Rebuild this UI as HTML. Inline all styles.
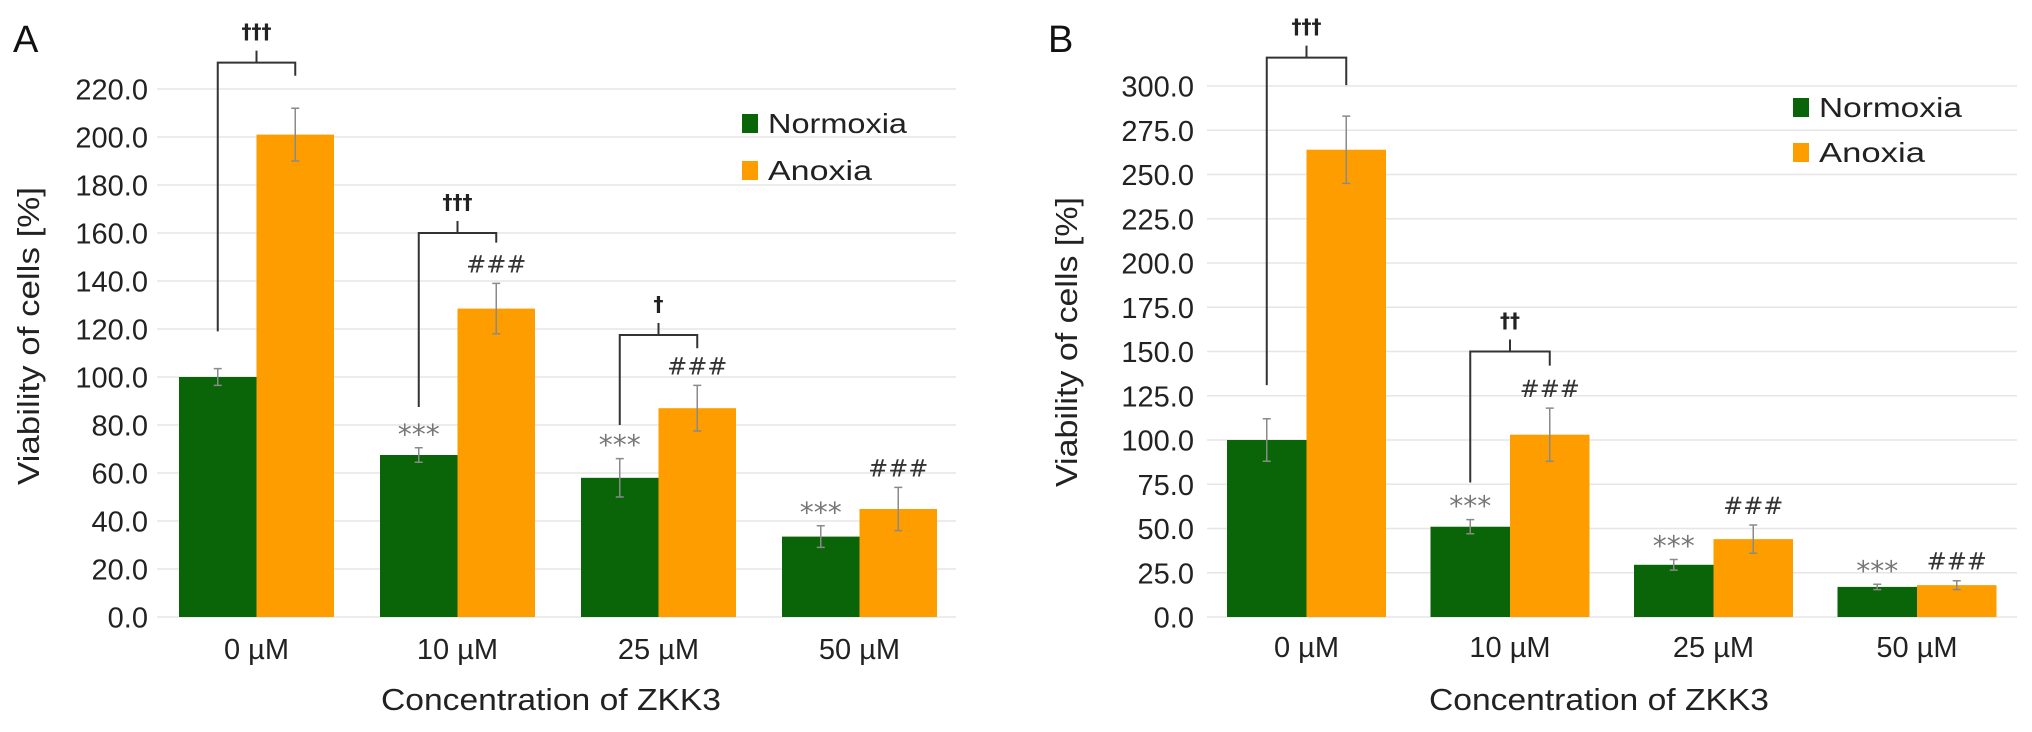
<!DOCTYPE html>
<html><head><meta charset="utf-8"><style>
html,body{margin:0;padding:0;background:#fff}
svg{display:block;font-family:"Liberation Sans",Arial,sans-serif}
</style></head><body>
<svg id="chart" width="2032" height="732" viewBox="0 0 2032 732" xmlns="http://www.w3.org/2000/svg"></svg>
<script>
const categories = ["0 \u00b5M","10 \u00b5M","25 \u00b5M","50 \u00b5M"];
const seriesNames = ["Normoxia","Anoxia"];
const aNormoxia = [100, 67.5, 58, 33.5];
const aNormoxiaErr = [3.5, 3, 8, 4.5];
const aAnoxia = [201, 128.5, 87, 45];
const aAnoxiaErr = [11, 10.5, 9.5, 9];
const aTicks = [0,20,40,60,80,100,120,140,160,180,200,220];
const aNormStars = ["", "***", "***", "***"];
const aAnoxHash = ["", "###", "###", "###"];
// brackets: group, left leg value, right leg value, top value, label
const aBrackets = [[0,119,225.5,231,"\u2020\u2020\u2020"],[1,87.5,156,160,"\u2020\u2020\u2020"],[2,80,112,117.5,"\u2020"]];

const bNormoxia = [100, 51, 29.5, 17];
const bNormoxiaErr = [12, 4, 3, 1.5];
const bAnoxia = [264, 103, 44, 18];
const bAnoxiaErr = [19, 15, 8, 2.5];
const bTicks = [0,25,50,75,100,125,150,175,200,225,250,275,300];
const bNormStars = ["", "***", "***", "***"];
const bAnoxHash = ["", "###", "###", "###"];
const bBrackets = [[0,131,300.5,316,"\u2020\u2020\u2020"],[1,76,142,150,"\u2020\u2020"]];

const NS="http://www.w3.org/2000/svg";
const svg=document.getElementById('chart');
function mk(tag,attrs,parent,text){const e=document.createElementNS(NS,tag);for(const k in attrs)e.setAttribute(k,attrs[k]);if(text!==undefined)e.textContent=text;(parent||svg).appendChild(e);return e;}

function panel(cfg){
  const g=mk('g',{});
  
  
  const y=v=>cfg.y0-v*cfg.ppu;
  const gx=i=>cfg.gStart+i*cfg.gStep;
  cfg.ticks.forEach(t=>{
    const l=mk('line',{x1:cfg.gridX0,x2:cfg.gridX1,y1:y(t),y2:y(t),stroke:'#e6e6e6','stroke-width':1.5},g);
    
    
    const tx=mk('text',{x:cfg.tickX,y:y(t)+10.5,'text-anchor':'end','font-size':29,fill:'#222'},g,t.toFixed(1));
    
    
  });
  categories.forEach((c,i)=>{
    [[cfg.norm,cfg.normErr,'#0a6408',0],[cfg.anox,cfg.anoxErr,'#fe9d00',1]].forEach(([vals,errs,col,s])=>{
      const x=gx(i)+s*cfg.bw;
      const r=mk('rect',{x:x,y:y(vals[i]),width:cfg.bw,height:y(0)-y(vals[i]),fill:col},g);
      
      
      const cx=x+cfg.bw/2, t=y(vals[i]+errs[i]), b=y(vals[i]-errs[i]);
      const e=mk('path',{d:`M${cx},${t}V${b}M${cx-4},${t}H${cx+4}M${cx-4},${b}H${cx+4}`,stroke:'#8a8a8a','stroke-width':1.5,fill:'none'},g);
      
      
      const lab=s?cfg.hash[i]:cfg.stars[i];
      if(lab){
        const a=mk('text',{x:cx,y:s?t-11:t-4,'text-anchor':'middle','font-size':s?24:28,fill:s?'#333':'#777','font-family':'"DejaVu Sans",sans-serif'},g,lab);
        
        
      }
    });
    const cl=mk('text',{x:gx(i)+cfg.bw,y:cfg.catY,'text-anchor':'middle','font-size':29,fill:'#222'},g,c);
    
    
  });
  cfg.brackets.forEach(([i,lv,rv,tv,lab])=>{
    const lx=gx(i)+cfg.bw/2, rx=gx(i)+cfg.bw*1.5, ty=y(tv), mx=(lx+rx)/2;
    const p=mk('path',{d:`M${lx},${y(lv)}V${ty}H${rx}V${y(rv)}M${mx},${ty}V${ty-12}`,stroke:'#333','stroke-width':2,fill:'none'},g);
    
    
    const t=mk('text',{x:mx,y:ty-24,'text-anchor':'middle','font-size':20,'font-weight':'bold',fill:'#222','font-family':'"DejaVu Sans",sans-serif'},g,lab);
    
    
  });
  const xt=mk('text',{x:cfg.xTitleX,y:710,'text-anchor':'middle','font-size':31,fill:'#222',textLength:340,lengthAdjust:'spacingAndGlyphs'},g,'Concentration of ZKK3');
  
  
  const yt=mk('text',{x:0,y:0,'text-anchor':'middle','font-size':31,fill:'#222',textLength:cfg.yTitleLen,lengthAdjust:'spacingAndGlyphs',transform:`translate(${cfg.yTitleX+11},${cfg.yTitleY}) rotate(-90)`},g,'Viability of cells [%]');
  
  
  const pl=mk('text',{x:cfg.labX,y:52,'font-size':38,fill:'#111'},g,cfg.id);
  
  
  seriesNames.forEach((n,k)=>{
    const ly=cfg.legY+k*cfg.legStep;
    const sq=mk('rect',{x:cfg.legX,y:ly-9,width:16,height:19,fill:k?'#fe9d00':'#0a6408'},g);
    
    
    const lt=mk('text',{x:cfg.legX+26,y:ly+10,'font-size':28,fill:'#222',textLength:cfg.legLen[k],lengthAdjust:'spacingAndGlyphs'},g,n);
    
    
  });
}

panel({id:'A',y0:617,ppu:528/220,gStart:179,gStep:201,bw:77.5,gridX0:157,gridX1:956,tickX:148,
  ticks:aTicks,norm:aNormoxia,normErr:aNormoxiaErr,anox:aAnoxia,anoxErr:aAnoxiaErr,stars:aNormStars,hash:aAnoxHash,
  brackets:aBrackets,catY:659,xTitleX:551,yTitleX:28,yTitleY:336,yTitleLen:298,labX:13,legX:742,legY:123,legStep:47,legLen:[139,104]});
panel({id:'B',y0:617,ppu:531/300,gStart:1227,gStep:203.5,bw:79.5,gridX0:1207,gridX1:2017,tickX:1194,
  ticks:bTicks,norm:bNormoxia,normErr:bNormoxiaErr,anox:bAnoxia,anoxErr:bAnoxiaErr,stars:bNormStars,hash:bAnoxHash,
  brackets:bBrackets,catY:657,xTitleX:1599,yTitleX:1066,yTitleY:342,yTitleLen:290,labX:1048,legX:1793,legY:107,legStep:45,legLen:[143,106]});
</script>
</body></html>
